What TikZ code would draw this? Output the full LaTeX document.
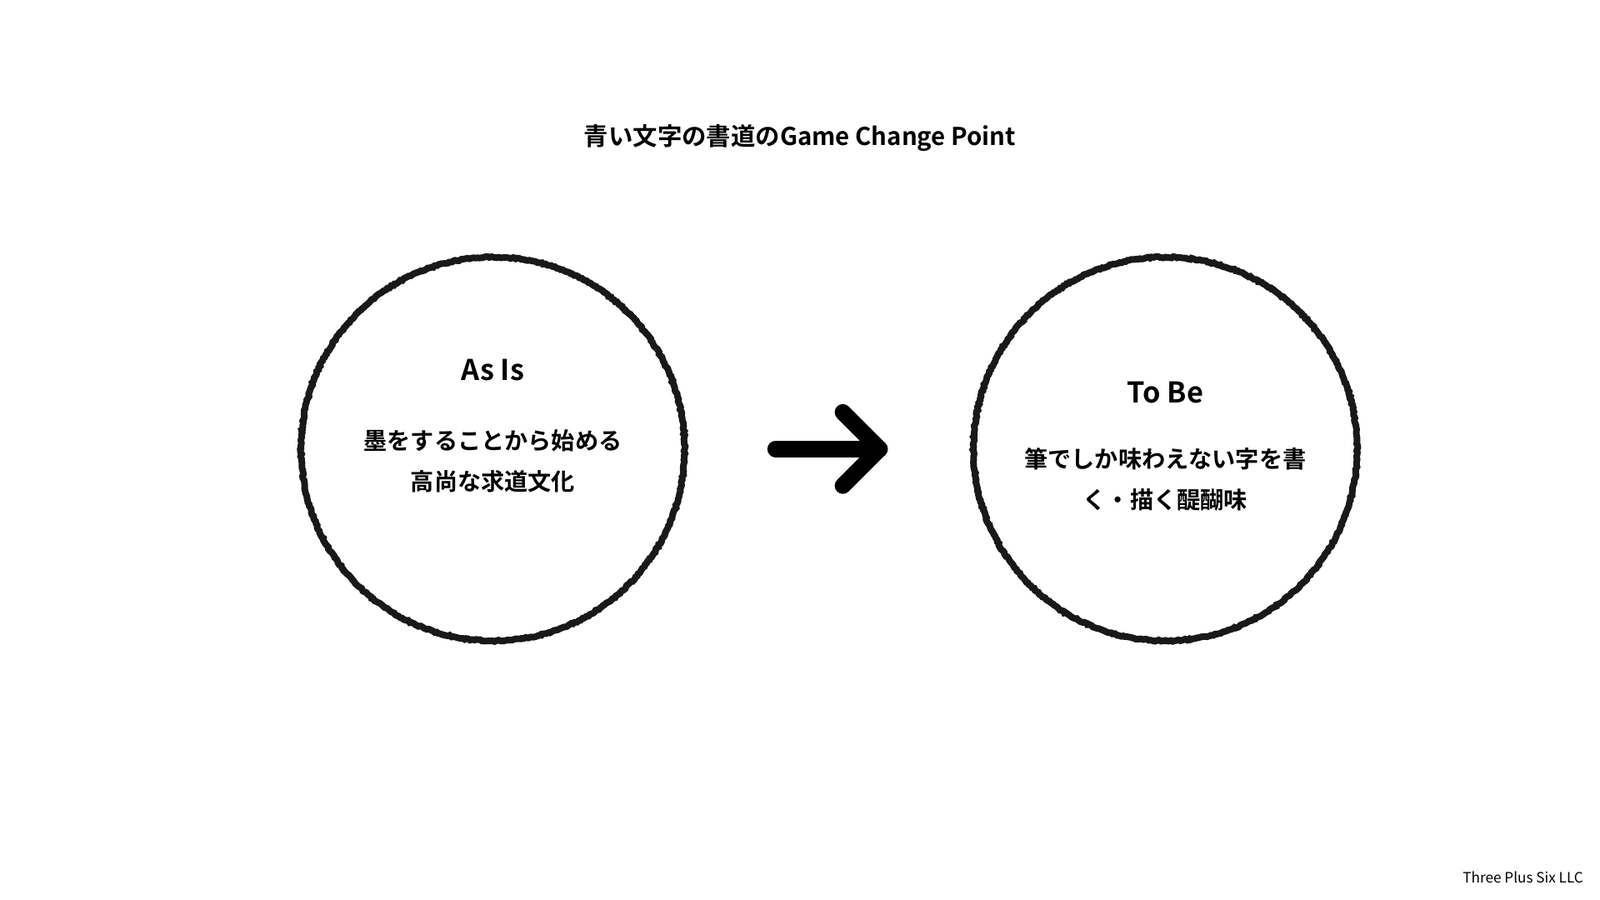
\documentclass[tikz,border=0pt]{standalone}
\usepackage{fontspec}
\setmainfont{Noto Sans CJK JP}[BoldFont={* Bold}]
\usetikzlibrary{decorations.pathmorphing}
\begin{document}
\begin{tikzpicture}[x=1pt,y=-1pt,
  ring/.style={draw=black!90,line width=6.5pt,decorate,decoration={random steps,segment length=2pt,amplitude=0.7pt}},
  ttl/.style={font=\bfseries\fontsize{24}{28}\selectfont},
  jp/.style={font=\bfseries\fontsize{23}{40}\selectfont,align=center}]
\useasboundingbox (0,0) rectangle (1568,882);
\fill[white] (0,0) rectangle (1568,882);
\node[ttl] (title) at (784,135) {青い文字の書道のGame Change Point};
\draw[ring] (483,440) circle (188);
\draw[ring] (1142,440) circle (188);
\node[font=\bfseries\fontsize{28}{32}\selectfont] (asis) at (483,363) {As Is};
\node[jp] (asist) at (483,452) {墨をすることから始める\\高尚な求道文化};
\node[font=\bfseries\fontsize{28}{32}\selectfont] (tobe) at (1142,385) {To Be};
\node[jp] (tobet) at (1142,470) {筆でしか味わえない字を書\\く・描く醍醐味};
\coordinate (a1) at (760,440); \coordinate (a2) at (862,440);
\coordinate (h1) at (826,404); \coordinate (h2) at (826,476);
\draw[line width=16pt,line cap=round,line join=round] (a1) -- (a2);
\draw[line width=16pt,line cap=round,line join=round] (h1) -- (a2) -- (h2);
\node[anchor=east,font=\fontsize{14}{16}\selectfont] (foot) at (1555,860) {Three Plus Six LLC};
\end{tikzpicture}
\end{document}
